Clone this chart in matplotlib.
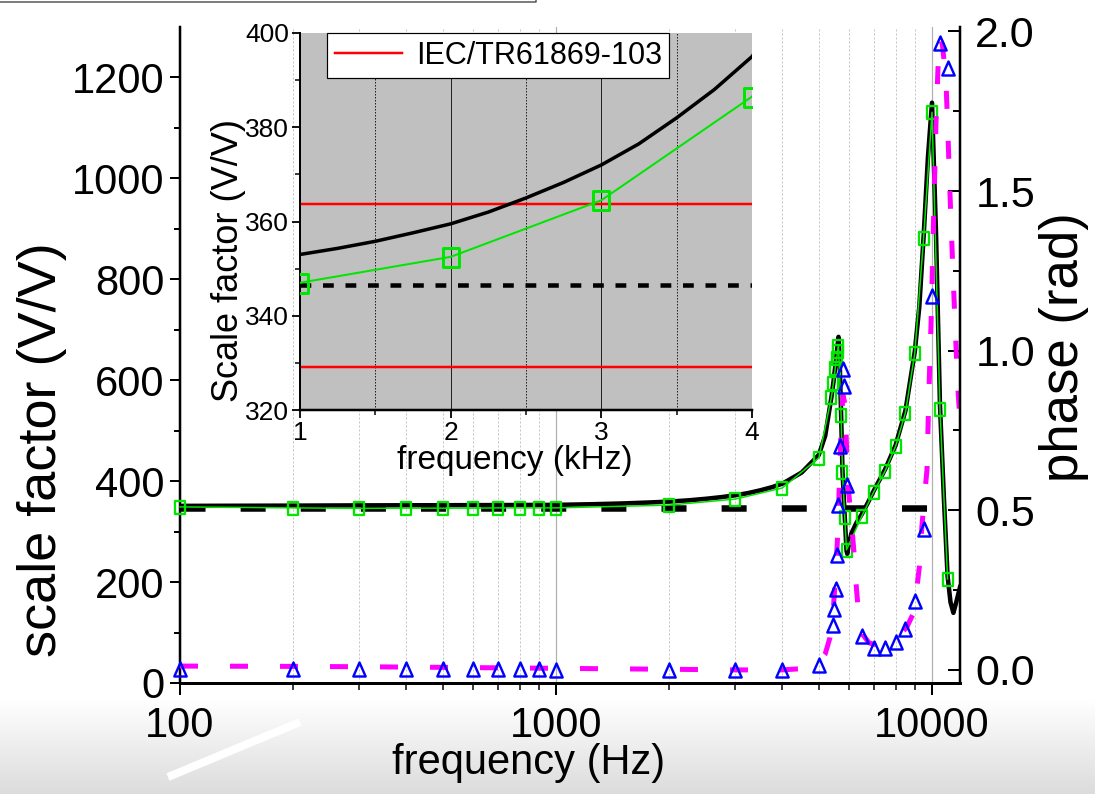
import numpy as np
import matplotlib
matplotlib.use("Agg")
import matplotlib.pyplot as plt
from matplotlib.path import Path
from matplotlib.markers import MarkerStyle
from matplotlib.lines import Line2D
from matplotlib.ticker import FixedLocator, NullFormatter, LogLocator

REG = ['Liberation Sans', 'DejaVu Sans']
plt.rcParams['font.family'] = REG

# ---------------- data ----------------
# measured scale factor (green squares)
sf_freq = [100, 200, 300, 400, 500, 600, 700, 800, 900, 1000, 2000, 3000, 4000, 5000,
           5400, 5470, 5530, 5580, 5610, 5640, 5730, 5780, 5860, 5925,
           6500, 7000, 7500, 8000, 8500, 9000, 9500, 10000, 10500, 11000]
sf_meas = [349, 347, 346, 346.5, 346.5, 346.5, 347, 347, 347, 347, 352.5, 364.5, 386.5, 446,
           566, 595, 624, 645, 657, 668, 532, 418, 329, 264,
           330, 379, 420, 469, 536, 654, 882, 1131, 543, 206]

# measured phase (blue triangles)
ph_freq = [100, 200, 300, 400, 500, 600, 700, 800, 900, 1000, 2000, 3000, 4000, 5000,
           5465, 5500, 5545, 5600, 5635, 5695, 5810, 5835, 5950,
           6500, 7000, 7500, 8000, 8500, 9000, 9500, 10000, 10500, 11000]
ph_meas = [0.003, 0.004, 0.003, 0.002, 0.002, 0.002, 0.002, 0.002, 0.002, 0.001, 0.001, 0.0, 0.0, 0.016,
           0.14, 0.19, 0.255, 0.36, 0.516, 0.70, 0.943, 0.89, 0.58,
           0.105, 0.068, 0.07, 0.087, 0.127, 0.215, 0.44, 1.171, 1.963, 1.885]

# model scale factor (black solid)
model_freq = [100, 200, 300, 500, 700, 1000, 1250, 1500, 1750, 2000, 2250, 2500, 2750, 3000,
              3250, 3500, 3750, 4000, 4500, 5000, 5200, 5400, 5470, 5530, 5580, 5615, 5640,
              5680, 5730, 5780, 5860, 5925, 5950, 6000, 6100, 6300, 6500, 6750, 7000, 7500,
              8000, 8500, 9000, 9250, 9500, 9750, 10000, 10250, 10500, 10750, 11000, 11200,
              11400, 11600, 11870]
model_sf = [351, 351.5, 352, 352.3, 352.6, 353, 354.3, 355.8, 357.6, 359.5, 362, 365, 368.3, 372,
            376.5, 382, 388, 395, 417, 452, 490, 566, 597, 628, 652, 672, 686,
            640, 535, 420, 330, 262, 256, 272, 296, 318, 334, 357, 381, 423,
            471, 540, 657, 745, 885, 1040, 1150, 890, 550, 370, 212, 160,
            139, 160, 190]

# model phase (magenta dashed)
phm_freq = [100, 200, 300, 500, 1000, 2000, 3000, 4000, 4500, 4750, 5000, 5200, 5350, 5450,
            5500, 5550, 5600, 5640, 5690, 5750, 5800, 5850, 5900, 5950, 6000, 6100, 6200,
            6300, 6400, 6550, 6800, 7000, 7500, 8000, 8300, 8580, 8900, 9120, 9250, 9400,
            9700, 9800, 9950, 10090, 10250, 10400, 10500, 10650, 10880, 11010, 11140, 11280,
            11410, 11550, 11690, 11870]
phm_val = [0.012, 0.011, 0.010, 0.008, 0.005, 0.002, 0.0, 0.0, 0.004, 0.008, 0.025, 0.05, 0.10, 0.17,
           0.24, 0.32, 0.40, 0.49, 0.65, 0.80, 0.86, 0.84, 0.76, 0.64, 0.56, 0.47, 0.37,
           0.25, 0.16, 0.11, 0.085, 0.08, 0.085, 0.10, 0.115, 0.135, 0.175, 0.26, 0.32, 0.45,
           0.63, 0.85, 1.10, 1.40, 1.72, 1.92, 1.98, 1.96, 1.86, 1.70, 1.52, 1.35,
           1.20, 1.05, 0.90, 0.78]

nominal_sf = 346.5                 # dashed reference level
nominal_range = [100, 10000]
iec_limits = [329.2, 363.8]        # red lines in the inset

main_yticks = [0, 200, 400, 600, 800, 1000, 1200]
phase_yticks = [0.0, 0.5, 1.0, 1.5, 2.0]
inset_xticks = [1, 2, 3, 4]
inset_yticks = [320, 340, 360, 380, 400]

# ---------------- styling helpers ----------------
PT = 0.72  # points per pixel at dpi=100
GREEN = '#00e600'
BLUE = '#0000ff'
MAG = '#ff00ff'

sq_path = Path([(-0.42, -0.5), (0.42, -0.5), (0.42, 0.5), (-0.42, 0.5), (-0.42, -0.5)],
               [Path.MOVETO, Path.LINETO, Path.LINETO, Path.LINETO, Path.CLOSEPOLY])
tri_path = Path([(0, 0.5), (-0.44, -0.5), (0.44, -0.5), (0, 0.5)],
                [Path.MOVETO, Path.LINETO, Path.LINETO, Path.CLOSEPOLY])
SQ = MarkerStyle(sq_path)
TRI = MarkerStyle(tri_path)

fig = plt.figure(figsize=(10.95, 7.94), dpi=100)
W, H = 1095.0, 794.0

def fx(px):
    return px / W

def fy(py):
    return 1 - py / H

# bottom gradient (slide background)
bg = fig.add_axes([0, 0, 1, fy(700)], zorder=-10)
grad = np.linspace(0, 1, 100).reshape(-1, 1)
bg.imshow(grad, aspect='auto', cmap=matplotlib.colors.LinearSegmentedColormap.from_list(
    'g', ['#dcdcdc', '#ffffff']), extent=[0, 1, 0, 1], origin='lower')
bg.set_axis_off()
fig.add_artist(Line2D([fx(168), fx(300)], [fy(777), fy(722)], color='white', lw=8 * PT,
                      transform=fig.transFigure, solid_capstyle='butt'))
fig.add_artist(Line2D([0, fx(536), fx(536)], [fy(2), fy(2), 1.0], color='#555555',
                      lw=1.5 * PT, transform=fig.transFigure))

# ---------------- main axes ----------------
ax = fig.add_axes([fx(180), fy(683), fx(960) - fx(180), fy(27) - fy(683)])
ax.patch.set_alpha(0)
ax.set_xscale('log')
ax.set_xlim(100, 11870)
ax.set_ylim(0, 1300)
ax.set_yticks(main_yticks)
ax.yaxis.set_minor_locator(FixedLocator([100, 300, 500, 700, 900, 1100]))
ax.xaxis.set_major_locator(FixedLocator([100, 1000, 10000]))
ax.xaxis.set_minor_locator(LogLocator(base=10, subs=range(2, 10)))
ax.xaxis.set_minor_formatter(NullFormatter())
ax.set_xticklabels(['100', '1000', '10000'])
ax.grid(which='minor', axis='x', color='#c4c4c4', lw=1 * PT, ls=(0, (2, 2)))
ax.grid(which='major', axis='x', color='#b0b0b0', lw=1.2 * PT, ls='-')
ax.set_axisbelow(True)
for s in ['top', 'right']:
    ax.spines[s].set_visible(False)
ax.spines['left'].set_linewidth(2.5 * PT)
ax.spines['bottom'].set_linewidth(3 * PT)
ax.tick_params(axis='y', which='major', direction='out', length=10 * PT, width=2 * PT,
               labelsize=30, pad=4)
ax.tick_params(axis='y', which='minor', direction='out', length=6 * PT, width=2 * PT)
ax.tick_params(axis='x', which='major', direction='out', length=12 * PT, width=2 * PT,
               labelsize=30, pad=8)
ax.tick_params(axis='x', which='minor', direction='out', length=7 * PT, width=1.5 * PT)

ax.plot(nominal_range, [nominal_sf, nominal_sf], color='black', lw=6.5 * PT,
        ls=(0, (3.85, 5.4)), zorder=2)
ax.plot(model_freq, model_sf, color='black', lw=4.5 * PT, zorder=3)
ax.plot(sf_freq, sf_meas, color=GREEN, lw=1.5 * PT, marker=SQ, ms=13 * PT,
        mfc='none', mec=GREEN, mew=2.3 * PT, zorder=4, clip_on=False)

# ---------------- phase axes ----------------
ax2 = ax.twinx()
ax2.set_ylim(-0.041, 2.014)
ax2.set_yticks(phase_yticks)
ax2.set_yticklabels(['0.0', '0.5', '1.0', '1.5', '2.0'])
ax2.yaxis.set_minor_locator(FixedLocator([0.25, 0.75, 1.25, 1.75]))
for s in ['top', 'left', 'bottom']:
    ax2.spines[s].set_visible(False)
ax2.spines['right'].set_linewidth(2.5 * PT)
ax2.tick_params(axis='y', which='major', direction='in', length=12 * PT, width=2 * PT,
                labelsize=31, pad=11)
ax2.tick_params(axis='y', which='minor', direction='in', length=7 * PT, width=2 * PT)
ax2.plot(phm_freq, phm_val, color=MAG, lw=5 * PT, ls=(0, (3.6, 6.4)), zorder=2)
ax2.plot(ph_freq, ph_meas, ls='none', marker=TRI, ms=14 * PT, mfc='none', mec=BLUE,
         mew=2.4 * PT, zorder=3, clip_on=False)

# ---------------- labels ----------------
fig.text(fx(42), fy(450), 'scale factor (V/V)', rotation=90, ha='center', va='center',
         fontsize=39, family=REG)
fig.text(fx(1064), fy(347), 'phase (rad)', rotation=90, ha='center', va='center',
         fontsize=38, family=REG)
fig.text(fx(529), fy(763), 'frequency (Hz)', ha='center', va='center', fontsize=30,
         family=REG)

# ---------------- inset ----------------
ins = fig.add_axes([fx(300), fy(410), fx(752) - fx(300), fy(33) - fy(410)], zorder=10)
ins.set_facecolor('#c0c0c0')
ins.set_xlim(1, 4)
ins.set_ylim(320, 400)
ins.set_xticks(inset_xticks)
ins.set_yticks(inset_yticks)
ins.xaxis.set_minor_locator(FixedLocator([1.5, 2.5, 3.5]))
ins.yaxis.set_minor_locator(FixedLocator([330, 350, 370, 390]))
ins.grid(which='major', axis='x', color='#222222', lw=1 * PT, ls='-')
ins.grid(which='minor', axis='x', color='#222222', lw=1 * PT, ls=(0, (1.5, 1.5)))
ins.set_axisbelow(True)
for s in ['top', 'right']:
    ins.spines[s].set_visible(False)
ins.spines['left'].set_linewidth(2 * PT)
ins.spines['bottom'].set_linewidth(2.5 * PT)
ins.tick_params(which='major', direction='out', length=8 * PT, width=1.8 * PT, labelsize=19,
                pad=2)
ins.tick_params(which='minor', direction='out', length=5 * PT, width=1.5 * PT)

khz_model = [f / 1000 for f in model_freq]
khz_sf = [f / 1000 for f in sf_freq]
for lim in iec_limits:
    ins.axhline(lim, color='#ff0000', lw=2.5 * PT, zorder=2)
ins.lines[0].set_label('IEC/TR61869-103')
ins.axhline(nominal_sf, color='black', lw=4.5 * PT, ls=(0, (2.4, 2.6)), zorder=2)
ins.plot(khz_model, model_sf, color='black', lw=3.5 * PT, zorder=3)
ins.plot(khz_sf, sf_meas, color=GREEN, lw=2 * PT, marker=SQ, ms=19 * PT, mfc='none',
         mec=GREEN, mew=3 * PT, zorder=4)
leg = ins.legend(handles=[ins.lines[0]], loc='upper left', bbox_to_anchor=(0.06, 1.0),
                 borderaxespad=0, fontsize=22, frameon=True, fancybox=False, framealpha=1,
                 edgecolor='black', handlelength=2.2, handletextpad=0.45, borderpad=0.25)
leg.get_frame().set_linewidth(1.2 * PT)
leg.set_zorder(20)

fig.text(fx(228), fy(260), 'Scale factor (V/V)', rotation=90, ha='center', va='center',
         fontsize=26, family=REG, zorder=11)
fig.text(fx(515), fy(460), 'frequency (kHz)', ha='center', va='center', fontsize=24,
         family=REG, zorder=11)

fig.savefig('out.png', dpi=100)
